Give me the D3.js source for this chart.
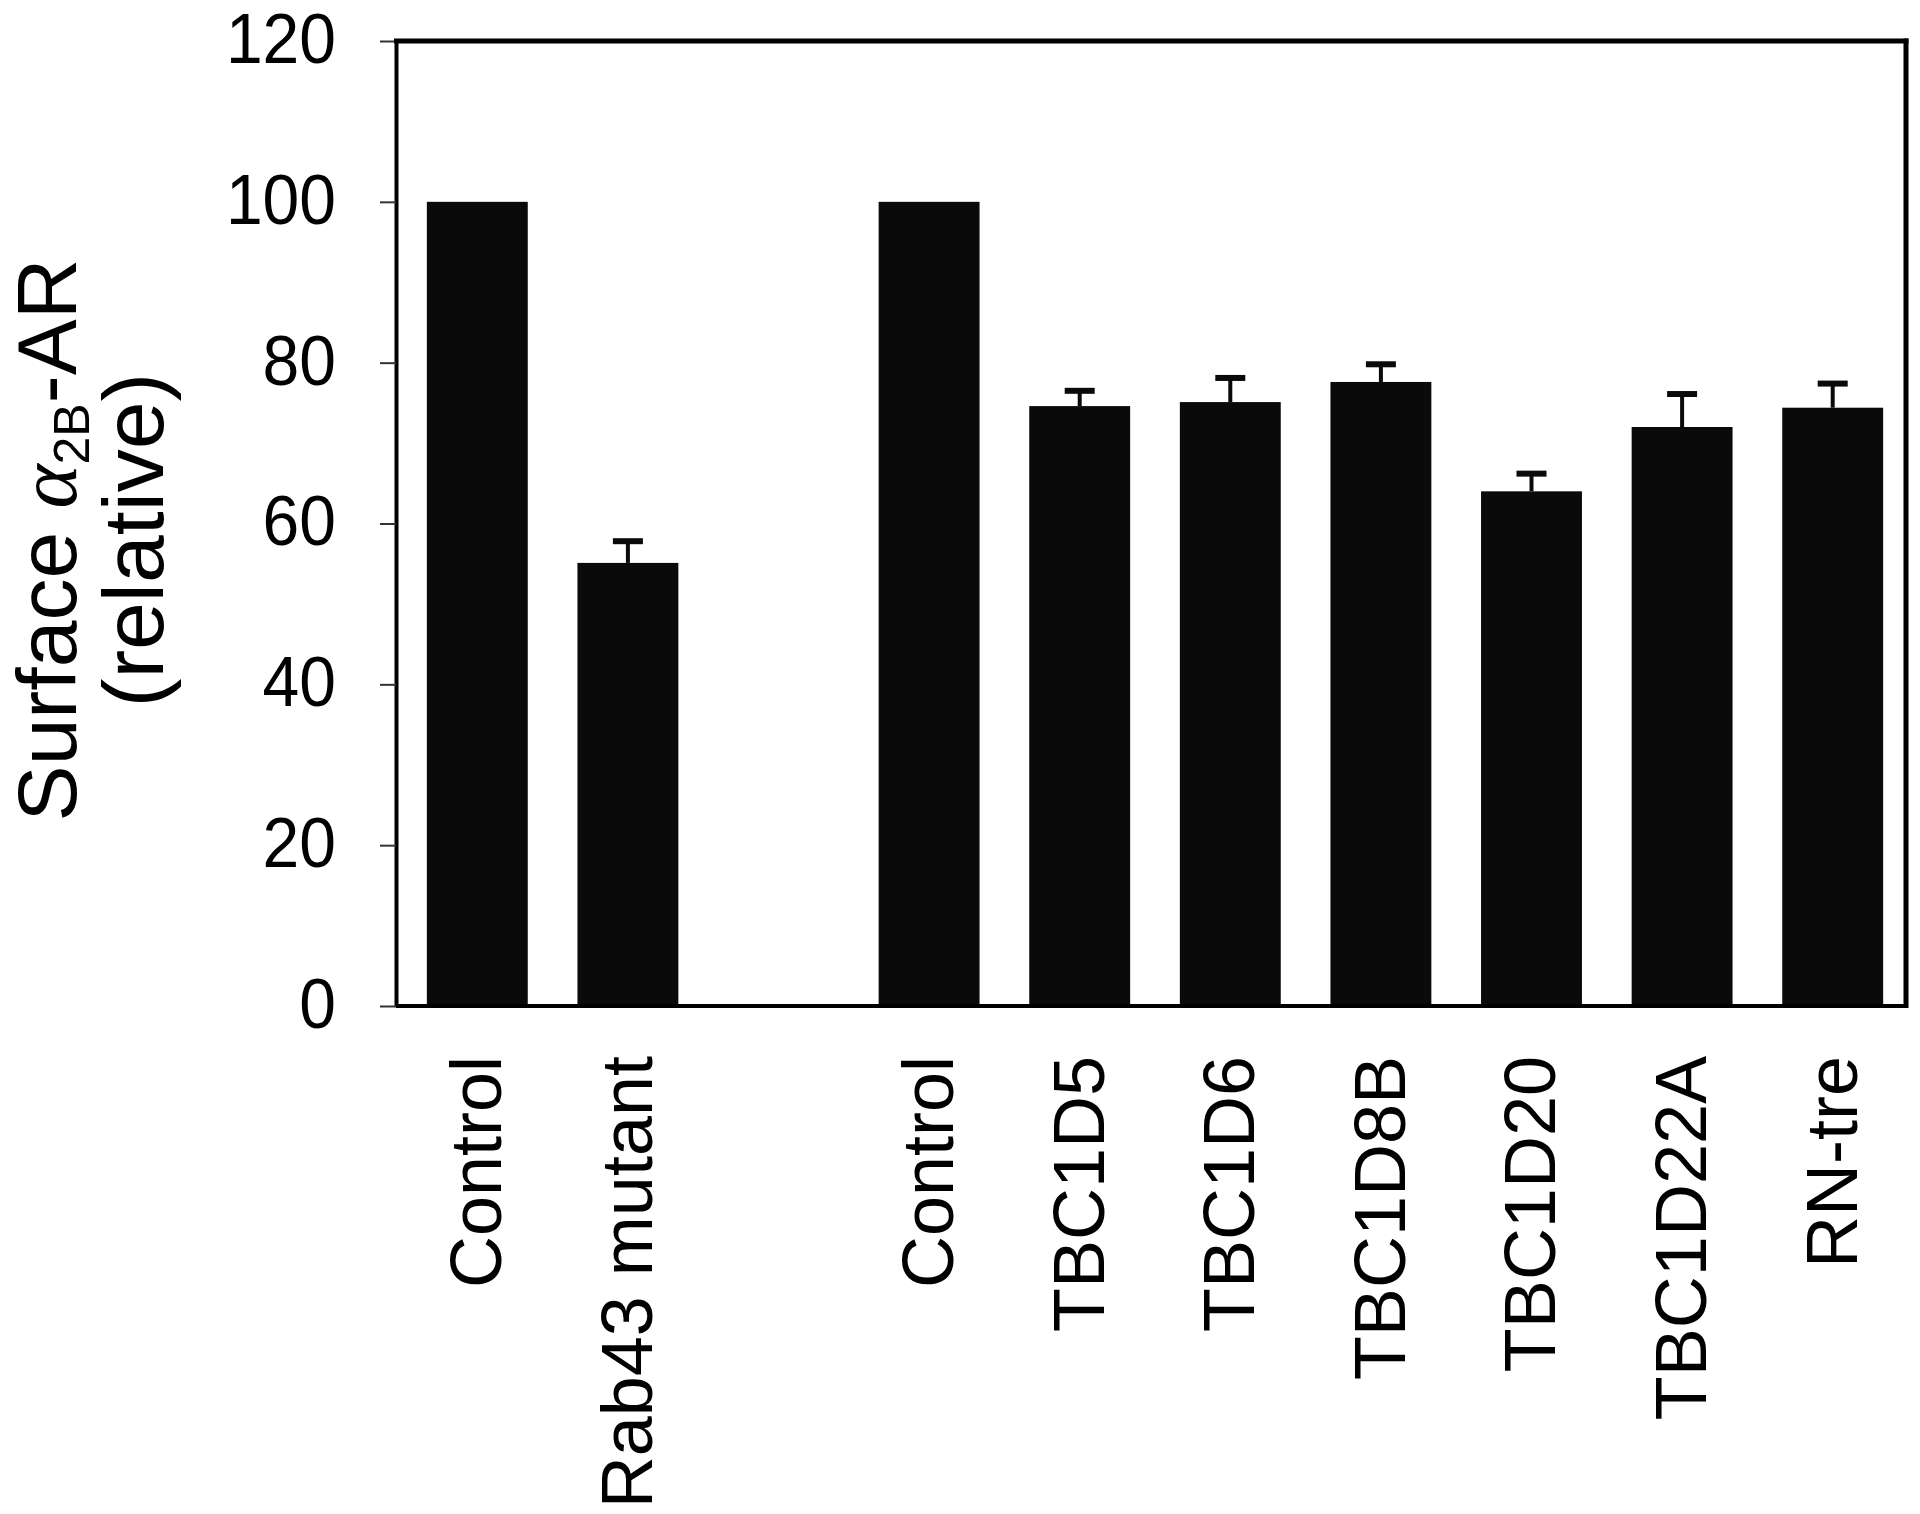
<!DOCTYPE html>
<html>
<head>
<meta charset="utf-8">
<script src="https://cdn.jsdelivr.net/npm/d3@7"></script>
<style>
  body { margin: 0; background: #fff; }
  text { font-family: "Liberation Sans", Arial, sans-serif; fill: #000; }
</style>
</head>
<body>
<script>
const categories = ["Control", "Rab43 mutant", "", "Control", "TBC1D5", "TBC1D6", "TBC1D8B", "TBC1D20", "TBC1D22A", "RN-tre"];
const values = [100, 55.1, null, 100, 74.6, 75.1, 77.6, 64.0, 72.0, 74.4];
const errors = [0, 2.7, null, 0, 1.9, 3.0, 2.2, 2.2, 4.1, 3.0];
const yTicks = [0, 20, 40, 60, 80, 100, 120];

const W = 1920, H = 1514;
const plotL = 396, plotR = 1906, plotT = 41, plotB = 1006;

const svg = d3.select("body").append("svg")
    .attr("width", W).attr("height", H)
    .attr("viewBox", `0 0 ${W} ${H}`);

const x = d3.scaleBand()
    .domain(d3.range(categories.length))
    .range([402, 1908])
    .paddingInner(0.33)
    .paddingOuter(0.165);

const y = d3.scaleLinear().domain([0, 120]).range([plotB, plotT]);

const rows = categories.map((c, i) => ({i: i, name: c, v: values[i], e: errors[i]}))
    .filter(d => d.v != null);

// bars
svg.append("g").selectAll("rect").data(rows).enter().append("rect")
    .attr("x", d => x(d.i))
    .attr("y", d => y(d.v))
    .attr("width", x.bandwidth())
    .attr("height", d => y(0) - y(d.v))
    .style("fill", "#0a0a0a");

// error bars (upper only)
const eb = svg.append("g").selectAll("g").data(rows.filter(d => d.e > 0)).enter().append("g");
eb.append("line")
    .attr("x1", d => x(d.i) + x.bandwidth() / 2)
    .attr("x2", d => x(d.i) + x.bandwidth() / 2)
    .attr("y1", d => y(d.v))
    .attr("y2", d => y(d.v + d.e))
    .style("stroke", "#0a0a0a").style("stroke-width", 4);
eb.append("line")
    .attr("x1", d => x(d.i) + x.bandwidth() / 2 - 15)
    .attr("x2", d => x(d.i) + x.bandwidth() / 2 + 15)
    .attr("y1", d => y(d.v + d.e))
    .attr("y2", d => y(d.v + d.e))
    .style("stroke", "#0a0a0a").style("stroke-width", 6);

// y axis
const yAxis = svg.append("g")
    .attr("transform", `translate(${plotL},0)`)
    .call(d3.axisLeft(y).tickValues(yTicks).tickSize(16).tickSizeOuter(0).tickPadding(44));
yAxis.select(".domain").style("stroke", "#000").style("stroke-width", 4);
yAxis.selectAll(".tick line").style("stroke", "#333").style("stroke-width", 2);
yAxis.selectAll(".tick text")
    .style("font-size", "66px")
    .style("font-family", "'Liberation Sans', Arial, sans-serif")
    .attr("dy", "0.3em")
    .attr("transform", "scale(1,1.08)");

// frame
svg.append("line").attr("x1", plotL).attr("x2", plotR + 2).attr("y1", plotB).attr("y2", plotB)
    .style("stroke", "#000").style("stroke-width", 4);
svg.append("line").attr("x1", plotL - 2).attr("x2", plotR + 2.5).attr("y1", plotT).attr("y2", plotT)
    .style("stroke", "#000").style("stroke-width", 5);
svg.append("line").attr("x1", plotR).attr("x2", plotR).attr("y1", plotT - 2.5).attr("y2", plotB + 2)
    .style("stroke", "#000").style("stroke-width", 5);

// category labels
svg.append("g").selectAll("text").data(rows).enter().append("text")
    .attr("transform", d => `translate(${x(d.i) + x.bandwidth() / 2 - 2},1056) rotate(-90)`)
    .attr("text-anchor", "end")
    .attr("dy", "0.36em")
    .style("font-size", "72px")
    .text(d => d.name);

// y title
const t1 = svg.append("text")
    .attr("transform", "translate(76,540) rotate(-90)")
    .attr("text-anchor", "middle")
    .style("font-size", "84px");
t1.append("tspan").text("Surface ");
t1.append("tspan").text("α").style("font-family", "'Liberation Serif', serif").style("font-style", "italic");
t1.append("tspan").text("2B").style("font-size", "50px").attr("dy", "0.25em");
t1.append("tspan").text("-AR").attr("dy", "-0.15em");

svg.append("text")
    .attr("transform", "translate(163,540) rotate(-90)")
    .attr("text-anchor", "middle")
    .style("font-size", "86px")
    .text("(relative)");
</script>
</body>
</html>
